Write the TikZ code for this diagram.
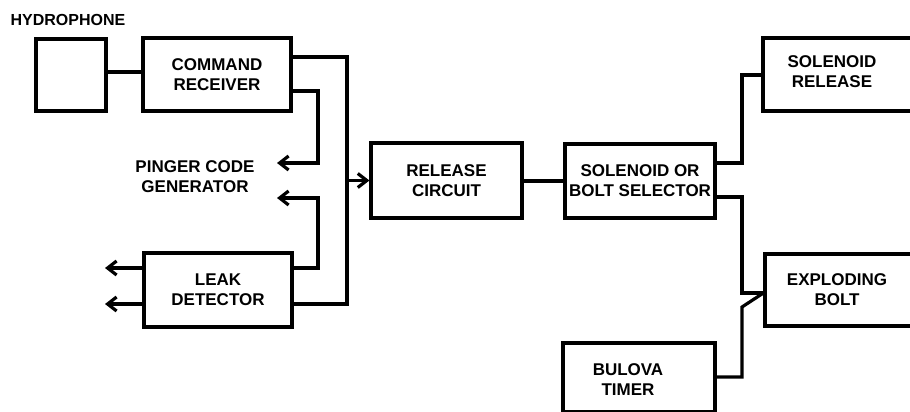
\documentclass[tikz,border=0pt]{standalone}
\usepackage{fontspec}
\setmainfont{Liberation Sans}
\usetikzlibrary{arrows.meta}
\begin{document}
\begin{tikzpicture}[x=1pt,y=-1pt,
  line width=3.2pt,
  blk/.style={draw, rectangle, inner sep=0pt, line width=3.2pt},
  lbl/.style={font=\bfseries\fontsize{17}{20}\selectfont, align=center, inner sep=0pt},
  arr/.style={-{Straight Barb[length=9pt,width=14pt]}}]
\useasboundingbox (0,0) rectangle (910,412);
\clip (0,0) rectangle (910,412);

% boxes
\node[blk, minimum width=70pt, minimum height=72pt] (hyd) at (71,75) {};
\node[lbl, font=\bfseries\fontsize{16}{20}\selectfont] (hydl) at (68,20) {HYDROPHONE};
\node[blk, lbl, minimum width=148pt, minimum height=73pt] (cr) at (217,74.5) {COMMAND\\RECEIVER};
\node[lbl] (png) at (195,177) {PINGER CODE\\GENERATOR};
\node[blk, lbl, minimum width=148pt, minimum height=74pt] (leak) at (218,290) {LEAK\\DETECTOR};
\node[blk, lbl, minimum width=151pt, minimum height=75pt] (rc) at (446.5,180.5) {RELEASE\\CIRCUIT};
\node[blk, lbl, minimum width=150pt, minimum height=74pt] (sel) at (640,181) {SOLENOID OR\\BOLT SELECTOR};
\node[blk, minimum width=180pt, minimum height=73pt] (solbox) at (853,74.5) {};
\node[lbl] (sol) at (832,72) {SOLENOID\\RELEASE};
\node[blk, minimum width=180pt, minimum height=72pt] (boltbox) at (855,290) {};
\node[lbl] (bolt) at (837,290) {EXPLODING\\BOLT};
\node[blk, minimum width=152pt, minimum height=69pt] (bulbox) at (639,377.5) {};
\node[lbl] (bul) at (628,380) {BULOVA\\TIMER};

% named free ends / bends
\coordinate (bt) at (347,57);
\coordinate (bm) at (347,180.5);
\coordinate (bb) at (347,304);
\coordinate (p1) at (277,163);
\coordinate (p2) at (277,198);
\coordinate (l1) at (105,268);
\coordinate (l2) at (105,304);

% connectors
\draw (hyd.east |- 0,72) -- (cr.west |- 0,72);
\draw (cr.east |- bt) -- (bt) -- (bb) -- (leak.east |- bb);
\draw[arr] (bm) -- (rc.west |- bm);
\draw[arr] (cr.east |- 0,91) -- (318,91) -- (318,163) -- (p1);
\draw[arr] (leak.east |- 0,268) -- (318,268) -- (318,198) -- (p2);
\draw[arr] (leak.west |- l1) -- (l1);
\draw[arr] (leak.west |- l2) -- (l2);
\draw (rc.east |- 0,181) -- (sel.west |- 0,181);
\draw (sel.east |- 0,163) -- (742,163) -- (742,75) -- (solbox.west |- 0,75);
\draw (sel.east |- 0,197) -- (742,197) -- (742,293) -- (boltbox.west |- 0,293);
\draw (bulbox.east |- 0,377) -- (742,377) -- (742,307) -- (boltbox.west |- 0,293);
\end{tikzpicture}
\end{document}
